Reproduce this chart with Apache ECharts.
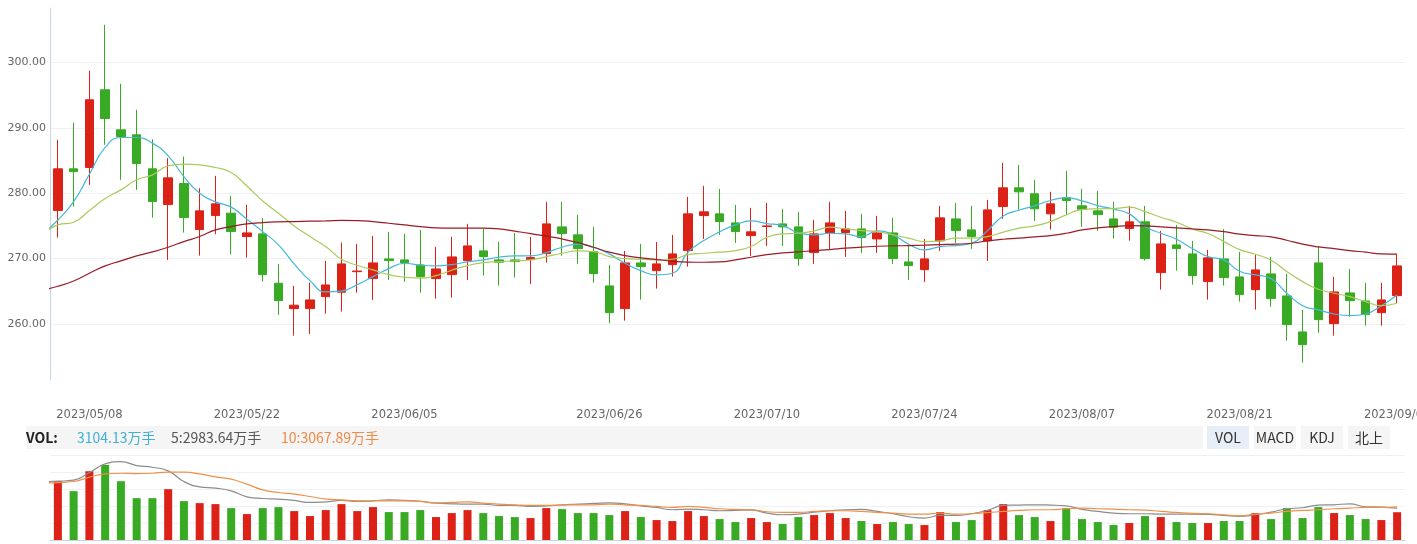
<!DOCTYPE html>
<html><head><meta charset="utf-8">
<script src="https://cdn.jsdelivr.net/npm/echarts/dist/echarts.min.js"></script>
<style>html,body{margin:0;padding:0;background:#fff}#c{width:1417px;height:544px}</style>
</head><body><div id="c"></div>
<script>
// index 0 is the trading day before the visible window (only the MA lines reach into it)
const dates = ['2023/04/28',
'2023/05/04','2023/05/05','2023/05/08','2023/05/09','2023/05/10','2023/05/11','2023/05/12',
'2023/05/15','2023/05/16','2023/05/17','2023/05/18','2023/05/19',
'2023/05/22','2023/05/23','2023/05/24','2023/05/25','2023/05/26',
'2023/05/29','2023/05/30','2023/05/31','2023/06/01','2023/06/02',
'2023/06/05','2023/06/06','2023/06/07','2023/06/08','2023/06/09',
'2023/06/12','2023/06/13','2023/06/14','2023/06/15','2023/06/16',
'2023/06/19','2023/06/20','2023/06/21',
'2023/06/26','2023/06/27','2023/06/28','2023/06/29','2023/06/30',
'2023/07/03','2023/07/04','2023/07/05','2023/07/06','2023/07/07',
'2023/07/10','2023/07/11','2023/07/12','2023/07/13','2023/07/14',
'2023/07/17','2023/07/18','2023/07/19','2023/07/20','2023/07/21',
'2023/07/24','2023/07/25','2023/07/26','2023/07/27','2023/07/28',
'2023/07/31','2023/08/01','2023/08/02','2023/08/03','2023/08/04',
'2023/08/07','2023/08/08','2023/08/09','2023/08/10','2023/08/11',
'2023/08/14','2023/08/15','2023/08/16','2023/08/17','2023/08/18',
'2023/08/21','2023/08/22','2023/08/23','2023/08/24','2023/08/25',
'2023/08/28','2023/08/29','2023/08/30','2023/08/31','2023/09/01',
'2023/09/04'];
const labelDates = ['2023/05/08','2023/05/22','2023/06/05','2023/06/26','2023/07/10','2023/07/24','2023/08/07','2023/08/21','2023/09/04'];
const priceTicks = [260, 270, 280, 290, 300];

const opens = [null,
277.35,283.73,283.93,295.82,289.70,288.93,283.73,278.26,281.48,274.44,
276.58,276.95,273.37,273.78,266.23,262.35,262.35,264.18,264.86,268.00,
266.94,269.95,269.80,269.03,266.94,267.55,269.69,271.18,269.80,269.80,
269.85,270.76,274.85,273.63,271.07,265.82,262.35,269.34,268.16,269.08,
271.22,276.58,276.84,275.46,273.52,274.90,275.31,274.85,270.92,273.93,
273.98,274.54,273.01,273.93,269.49,268.31,272.71,276.07,274.39,272.71,
277.96,280.82,279.90,276.84,279.29,278.07,277.30,276.07,274.59,275.62,
267.86,272.09,270.72,266.48,269.95,267.20,265.25,267.66,264.29,258.78,
269.34,260.05,264.75,263.52,261.73,264.33];
const closes = [null,
283.73,283.30,294.29,291.43,288.67,284.54,278.72,282.35,276.27,277.30,
278.37,274.13,273.93,267.55,263.57,262.87,263.68,265.97,269.19,268.10,
269.34,269.69,269.39,267.24,268.42,270.26,271.94,270.30,269.45,269.54,
270.15,275.31,273.82,271.53,267.70,261.73,269.34,268.77,269.19,270.72,
276.84,277.15,275.66,274.13,274.09,275.00,274.85,270.00,273.78,275.46,
274.54,273.21,273.93,270.00,268.93,269.95,276.23,274.28,273.37,277.45,
280.82,280.21,277.61,278.37,278.88,277.56,276.73,274.80,275.62,270.00,
272.25,271.53,267.40,270.11,267.09,264.49,268.27,263.88,259.90,256.84,
260.66,264.90,263.57,261.43,263.68,268.88];
const lows = [null,
273.21,277.96,281.28,287.40,282.05,280.51,276.27,269.80,273.98,270.46,
273.73,270.67,270.15,266.48,261.38,258.21,258.47,261.58,261.89,264.79,
263.68,266.74,266.48,264.79,263.88,264.03,266.74,267.40,265.87,267.09,
266.13,269.39,270.46,269.23,266.32,260.11,260.51,263.72,265.41,267.24,
268.77,273.01,273.63,272.40,270.41,271.94,271.94,268.88,269.19,271.48,
270.26,270.87,270.87,269.19,266.74,266.43,271.18,272.40,271.48,269.65,
276.08,277.45,275.77,274.44,276.73,274.85,274.28,273.06,272.75,269.69,
265.25,268.16,266.02,263.72,265.87,263.42,262.19,262.65,257.45,254.08,
258.67,258.21,261.12,259.74,259.74,263.17];
const highs = [null,
288.17,290.77,298.73,305.77,296.74,292.76,288.27,285.37,285.61,280.77,
282.66,279.60,278.22,276.18,269.19,265.82,266.32,269.65,272.45,272.25,
273.47,274.09,273.78,274.39,271.79,273.32,275.31,274.59,272.55,273.93,
273.32,278.68,278.68,276.69,274.85,269.03,271.18,272.25,272.55,273.63,
279.44,281.13,280.67,278.22,277.76,278.53,277.61,277.15,275.92,278.68,
277.30,276.84,276.53,276.23,272.09,273.01,278.06,278.53,278.06,278.99,
284.65,284.34,282.05,280.21,283.42,280.67,280.36,278.68,278.06,278.06,
274.24,275.15,272.71,271.33,274.54,271.02,270.57,270.26,267.66,262.15,
271.84,267.20,268.42,266.28,266.28,270.60];

const ma5 = [273.7,
275.9,278.7,282.9,287.0,288.52,288.52,287.66,285.72,282.55,280.0,
278.68,277.87,276.03,274.13,272.10,269.19,266.63,264.90,265.02,266.02,
267.24,268.47,269.29,268.98,268.88,269.08,269.49,269.80,270.21,270.41,
270.41,270.92,271.74,272.20,271.74,270.72,269.29,268.16,267.50,267.76,
271.0,272.75,274.09,275.15,275.77,275.36,275.05,273.93,273.63,273.88,
273.78,273.37,274.24,273.63,272.20,271.33,271.84,271.99,272.35,274.28,
276.53,277.40,278.07,278.88,279.34,278.83,278.11,277.56,276.84,274.90,
273.88,272.96,271.53,270.30,269.80,268.07,267.50,266.94,264.70,262.80,
262.15,261.53,261.27,261.53,262.80,264.44];
const ma10 = [273.7,
275.15,275.56,277.35,279.2,280.51,282.05,282.81,284.19,284.45,284.34,
283.93,283.16,281.1,278.8,276.95,275.0,273.37,271.84,269.9,268.98,
268.27,267.55,267.15,267.0,267.40,268.22,268.93,269.39,269.54,269.65,
269.80,270.30,270.82,271.18,271.07,270.30,270.0,269.90,269.80,269.90,
270.6,270.82,270.98,271.22,271.84,273.27,273.78,273.88,274.24,274.80,
274.54,274.28,274.13,273.63,273.12,272.60,272.71,273.12,273.12,273.37,
274.04,274.65,275.0,275.66,276.69,277.50,277.61,277.65,277.87,277.19,
276.33,275.56,274.54,273.83,272.60,271.38,270.67,269.75,268.01,266.48,
265.31,264.70,264.18,263.42,262.80,263.17];
const ma20 = [265.2,
265.77,266.58,267.76,268.88,269.65,270.41,271.02,271.74,272.60,273.37,
274.4,274.90,275.31,275.51,275.62,275.66,275.72,275.77,275.85,275.82,
275.66,275.41,275.15,274.90,274.70,274.65,274.65,274.65,274.54,274.19,
273.83,273.43,273.01,272.45,271.74,270.98,270.46,270.11,269.85,269.60,
269.47,269.44,269.49,269.80,270.21,270.61,270.87,271.02,271.22,271.38,
271.59,271.74,271.89,271.94,271.99,272.05,272.14,272.20,272.35,272.71,
272.96,273.12,273.32,273.52,273.88,274.39,274.70,274.90,275.05,275.0,
274.85,274.70,274.54,274.39,274.13,273.73,273.52,273.32,272.81,272.20,
271.79,271.53,271.22,270.98,270.72,270.67];

// volume, 万手
const vol = [null,
6573,5459,7687,8389,6573,4679,4679,5681,4345,4122,
4010,3565,2896,3565,3676,3231,2674,3342,4010,3231,
3676,3119,3119,3342,2562,3008,3342,3008,2674,2562,
2451,3565,3453,3008,3008,2785,3231,2562,2228,2117,
3231,2674,2339,2005,2451,2005,1782,2562,2785,3008,
2451,2117,1782,2005,1782,1671,3119,2005,2228,3342,
4010,2785,2562,2117,3565,2339,2005,1671,1894,2674,
2562,2005,1894,1894,2117,2117,3008,2339,3565,2451,
3676,3008,2785,2339,2228,3104];
const volMa5 = [6500,
6572,6683,7537,8503,8763,8317,8132,7723,6535,5941,
5792,5495,4827,4641,4567,4418,4196,4270,4418,4307,
4381,4493,4418,4307,4121,4047,4010,4010,3862,3862,
3750,3824,3936,4010,4084,4159,4047,3824,3639,3379,
3453,3379,3267,3305,3342,3008,2822,2896,3119,3267,
3379,3416,3193,2933,2599,2451,2748,2748,2933,3305,
3862,3899,3936,3899,3824,3416,3193,3008,2933,2933,
2896,2896,2896,2859,2748,2636,2822,3119,3490,3602,
3899,3936,4047,3713,3676,3564];
const volMa10 = [6350,
6423,6535,7018,7389,7463,7426,7463,7575,7575,7389,
7055,6795,6238,5607,5310,5124,4864,4567,4493,4381,
4381,4381,4381,4307,4159,4196,4270,4121,4010,3936,
3862,3862,3899,3936,3936,4010,3936,3862,3750,3639,
3750,3639,3490,3416,3379,3156,3082,3082,3193,3267,
3267,3193,3082,3008,2896,2896,3008,2896,2933,3064,
3193,3305,3379,3379,3490,3564,3490,3453,3379,3342,
3193,3082,2970,2933,2822,2711,2896,3008,3193,3305,
3379,3490,3564,3639,3639,3713];

const legendVol = '3104.13万手', legendMa5 = '5:2983.64万手', legendMa10 = '10:3067.89万手';
const tabs = ['VOL', 'MACD', 'KDJ', '北上'];

const UP = '#dc2117', DOWN = '#38aa23';
const AXIS = '#c6d5ea', SPLIT = '#eef1f5';

const candleData = dates.map((d, i) => opens[i] == null ? '-' : [opens[i], closes[i], lows[i], highs[i]]);
const volData = dates.map((d, i) => vol[i] == null ? '-' : {
  value: vol[i], itemStyle: { color: closes[i] >= opens[i] ? UP : DOWN }
});
const labelSet = new Set(labelDates);

const chart = echarts.init(document.getElementById('c'), null, { renderer: 'canvas' });

const FONT = '"Noto Sans CJK SC", sans-serif';
const graphic = [
  { type: 'rect', shape: { x: 26, y: 426, width: 1177, height: 23 }, style: { fill: '#f5f5f5' }, silent: true },
  { type: 'text', x: 26, y: 438, style: { text: 'VOL:', fontSize: 14, fontWeight: 'bold', fontFamily: FONT, fill: '#222', verticalAlign: 'middle' } },
  { type: 'text', x: 77, y: 438, style: { text: legendVol, fontSize: 14, fontFamily: FONT, fill: '#3fb0d6', verticalAlign: 'middle' } },
  { type: 'text', x: 171, y: 438, style: { text: legendMa5, fontSize: 14, fontFamily: FONT, fill: '#555555', verticalAlign: 'middle' } },
  { type: 'text', x: 281, y: 438, style: { text: legendMa10, fontSize: 14, fontFamily: FONT, fill: '#ef8a47', verticalAlign: 'middle' } }
];
tabs.forEach((t, k) => {
  const x0 = 1207 + k * 47;
  graphic.push({ type: 'rect', shape: { x: x0, y: 426, width: 42, height: 23 }, style: { fill: k === 0 ? '#e6eef8' : '#f5f5f5' }, silent: true });
  graphic.push({ type: 'text', x: x0 + 21, y: 438, style: { text: t, fontSize: 14, fontFamily: FONT, fill: '#333', align: 'center', verticalAlign: 'middle' } });
});

const lineS = (name, data, color, xi, yi) => ({
  name, type: 'line', data, xAxisIndex: xi, yAxisIndex: yi, smooth: true, showSymbol: false, symbol: 'none',
  lineStyle: { color, width: 1.2 }, clip: true, silent: true, z: 3
});

chart.setOption({
  animation: false,
  backgroundColor: '#fff',
  graphic,
  grid: [
    { left: 50, right: 12, top: 8, height: 372, containLabel: false, outerBoundsMode: 'none' },
    { left: 50, right: 12, top: 455, height: 85, containLabel: false, outerBoundsMode: 'none' }
  ],
  xAxis: [
    { type: 'category', data: dates, gridIndex: 0, min: 1, boundaryGap: true,
      axisLine: { show: false }, axisTick: { show: false }, splitLine: { show: false },
      axisLabel: { margin: 29, color: '#666', fontSize: 11.5, fontFamily: 'DejaVu Sans',
        interval: (idx, val) => labelSet.has(val), hideOverlap: false } },
    { type: 'category', data: dates, gridIndex: 1, min: 1, boundaryGap: true,
      axisLine: { show: true, lineStyle: { color: AXIS, width: 1 } }, axisTick: { show: false },
      axisLabel: { show: false }, splitLine: { show: false } }
  ],
  yAxis: [
    { type: 'value', gridIndex: 0, min: 251.43, max: 308.33, splitNumber: 5, scale: true,
      axisLine: { show: true, lineStyle: { color: AXIS, width: 1 } }, axisTick: { show: false },
      axisLabel: { margin: 4, color: '#666', fontSize: 11, fontFamily: 'DejaVu Sans',
        showMinLabel: false, showMaxLabel: false,
        formatter: v => priceTicks.includes(Math.round(v * 100) / 100) ? v.toFixed(2) : '' },
      splitLine: { show: true, showMinLine: false, showMaxLine: false, lineStyle: { color: SPLIT, width: 1 } } },
    { type: 'value', gridIndex: 1, min: 0, max: 9500, interval: 1900,
      axisLine: { show: false }, axisTick: { show: false }, axisLabel: { show: false },
      splitLine: { show: true, showMinLine: false, lineStyle: { color: SPLIT, width: 1 } } }
  ],
  series: [
    { name: 'K', type: 'candlestick', data: candleData, xAxisIndex: 0, yAxisIndex: 0, barWidth: 9, clip: true,
      itemStyle: { color: UP, color0: DOWN, borderColor: UP, borderColor0: DOWN, borderWidth: 1 }, silent: true },
    lineS('MA5', ma5, '#45b8da', 0, 0),
    lineS('MA10', ma10, '#a9cb5c', 0, 0),
    lineS('MA20', ma20, '#9a1c26', 0, 0),
    { name: 'VOL', type: 'bar', data: volData, xAxisIndex: 1, yAxisIndex: 1, barWidth: 8, silent: true },
    lineS('VMA5', volMa5, '#8c8c8c', 1, 1),
    lineS('VMA10', volMa10, '#f0914a', 1, 1)
  ]
});
</script>
</body></html>
